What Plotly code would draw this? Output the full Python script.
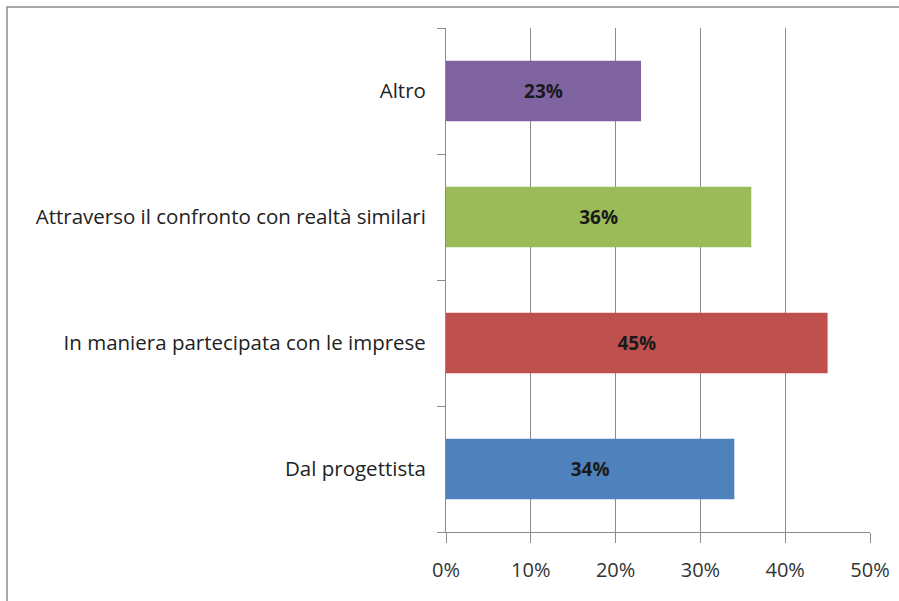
import plotly.graph_objects as go

# Survey answers (bottom to top) and their shares in percent
categories = [
    "Dal progettista",
    "In maniera partecipata con le imprese",
    "Attraverso il confronto con realtà similari",
    "Altro",
]
values = [34, 45, 36, 23]
bar_colors = ["#4F81BD", "#C0504D", "#9BBB59", "#8064A2"]
x_ticks = [0, 10, 20, 30, 40, 50]
x_tick_labels = [f"{t}%" for t in x_ticks]

W, H = 899, 601
L, R, T, B = 446, 29, 28, 69
pw, ph = W - L - R, H - T - B

FONT = "Open Sans"

fig = go.Figure(
    go.Bar(
        y=categories,
        x=values,
        orientation="h",
        marker=dict(color=bar_colors, line=dict(width=0)),
        text=[f"{v}%" for v in values],
        textposition="inside",
        insidetextanchor="middle",
        textangle=0,
        textfont=dict(family=FONT, size=19, color="#1a1a1a", weight="bold"),
        hoverinfo="skip",
    )
)

fig.update_layout(
    width=W,
    height=H,
    margin=dict(l=L, r=R, t=T, b=B, autoexpand=False),
    paper_bgcolor="white",
    plot_bgcolor="white",
    bargap=0.52,
    showlegend=False,
    font=dict(family=FONT, size=20, color="#222222"),
    xaxis=dict(
        range=[0, 50],
        tickvals=x_ticks,
        ticktext=x_tick_labels,
        showgrid=True,
        gridcolor="#8a8a8a",
        gridwidth=1,
        showline=True,
        linecolor="#8a8a8a",
        linewidth=1,
        ticks="outside",
        ticklen=10,
        tickcolor="#8a8a8a",
        ticklabelstandoff=10,
        zeroline=False,
        automargin=False,
        tickfont=dict(size=20, color="#333333"),
    ),
    yaxis=dict(
        type="category",
        categoryorder="array",
        categoryarray=categories,
        showline=True,
        linecolor="#8a8a8a",
        linewidth=1,
        ticks="outside",
        tickson="boundaries",
        ticklen=8,
        tickcolor="#8a8a8a",
        ticklabelstandoff=15,
        showgrid=False,
        automargin=False,
        tickfont=dict(size=20.5, color="#222222"),
    ),
    shapes=[
        # outer chart frame (top and left edges visible)
        dict(
            type="rect",
            xref="paper",
            yref="paper",
            x0=(7 - L) / pw,
            x1=(W + 10 - L) / pw,
            y0=-(H + 10 - T - ph) / ph,
            y1=(H - 7 - B) / ph,
            line=dict(color="#8c8c8c", width=1.5),
            fillcolor="rgba(0,0,0,0)",
            layer="below",
        )
    ],
)

fig.write_html("out.html")
